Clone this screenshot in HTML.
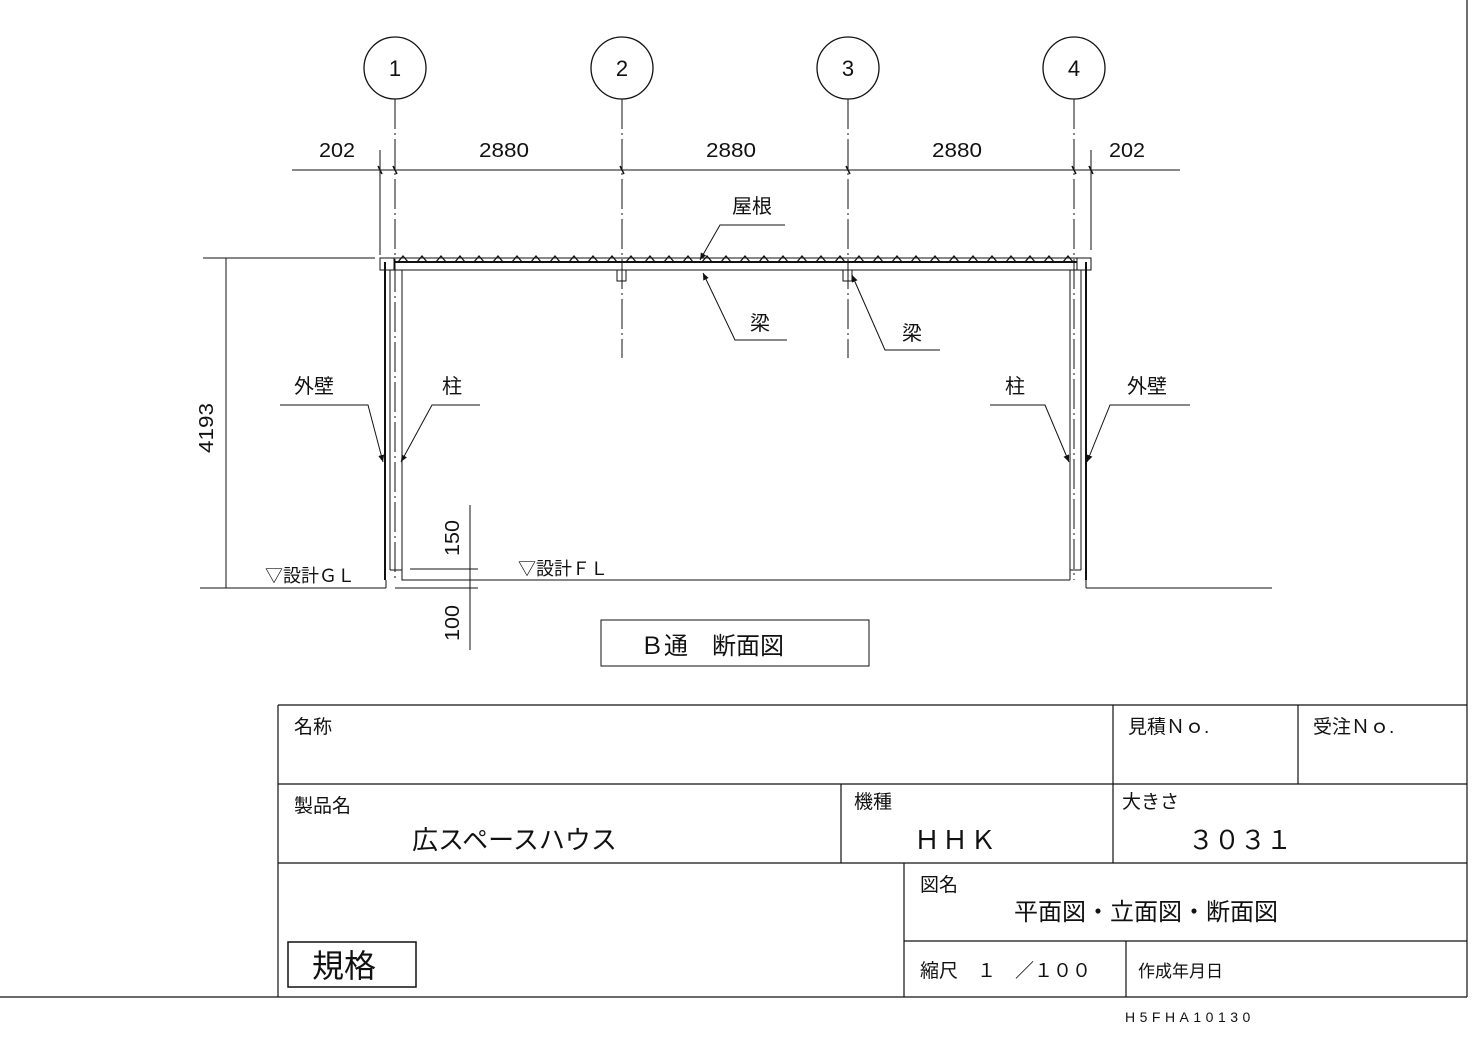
<!DOCTYPE html>
<html><head><meta charset="utf-8"><style>
body{margin:0;background:#fff;width:1472px;height:1038px;overflow:hidden}
svg{display:block}
text{font-family:"Liberation Sans","Noto Sans CJK JP",sans-serif;fill:#111}
</style></head><body>
<svg width="1472" height="1038" viewBox="0 0 1472 1038" stroke="#111" fill="none" stroke-width="1">
<defs><marker id="a" markerWidth="8" markerHeight="8" refX="7" refY="3" orient="auto" markerUnits="userSpaceOnUse"><path d="M0 0 L7 3 L0 6 Z" fill="#111" stroke="none"/></marker></defs>
<g stroke-width="1.3">
<circle cx="395" cy="68" r="31"/><circle cx="622" cy="68" r="31"/><circle cx="848" cy="68" r="31"/><circle cx="1074" cy="68" r="31"/>
</g>
<g stroke="none" font-size="22" text-anchor="middle">
<text x="395" y="76">1</text><text x="622" y="76">2</text><text x="848" y="76">3</text><text x="1074" y="76">4</text>
</g>
<g stroke-dasharray="30,4,2,4">
<line x1="395" y1="99" x2="395" y2="262"/>
<line x1="622" y1="99" x2="622" y2="358"/>
<line x1="848" y1="99" x2="848" y2="358"/>
<line x1="1074" y1="99" x2="1074" y2="580"/>
<line x1="395" y1="262" x2="395" y2="580"/>
</g>
<line x1="380" y1="150" x2="380" y2="255"/>
<line x1="1091" y1="150" x2="1091" y2="250"/>
<line x1="292" y1="170" x2="1180" y2="170"/>
<g stroke-width="1.5">
<line x1="378" y1="166" x2="382" y2="174"/><line x1="393" y1="166" x2="397" y2="174"/>
<line x1="620" y1="166" x2="624" y2="174"/><line x1="846" y1="166" x2="850" y2="174"/>
<line x1="1072" y1="166" x2="1076" y2="174"/><line x1="1089" y1="166" x2="1093" y2="174"/>
</g>
<g stroke="none" font-size="20" text-anchor="middle" font-family="Liberation Sans">
<text x="337" y="157" textLength="36" lengthAdjust="spacingAndGlyphs">202</text>
<text x="504" y="157" textLength="50" lengthAdjust="spacingAndGlyphs">2880</text>
<text x="731" y="157" textLength="50" lengthAdjust="spacingAndGlyphs">2880</text>
<text x="957" y="157" textLength="50" lengthAdjust="spacingAndGlyphs">2880</text>
<text x="1127" y="157" textLength="36" lengthAdjust="spacingAndGlyphs">202</text>
</g>
<path d="M380 258 H1091 V270 H380 Z"/>
<line x1="395" y1="262" x2="1077" y2="262" stroke-width="2"/>
<path stroke-width="1.3" d="M398 262 l5 -6 l5 6 m9 0 l5 -6 l5 6 m9 0 l5 -6 l5 6 m9 0 l5 -6 l5 6 m9 0 l5 -6 l5 6 m9 0 l5 -6 l5 6 m9 0 l5 -6 l5 6 m9 0 l5 -6 l5 6 m9 0 l5 -6 l5 6 m9 0 l5 -6 l5 6 m9 0 l5 -6 l5 6 m9 0 l5 -6 l5 6 m9 0 l5 -6 l5 6 m9 0 l5 -6 l5 6 m9 0 l5 -6 l5 6 m9 0 l5 -6 l5 6 m9 0 l5 -6 l5 6 m9 0 l5 -6 l5 6 m9 0 l5 -6 l5 6 m9 0 l5 -6 l5 6 m9 0 l5 -6 l5 6 m9 0 l5 -6 l5 6 m9 0 l5 -6 l5 6 m9 0 l5 -6 l5 6 m9 0 l5 -6 l5 6 m9 0 l5 -6 l5 6 m9 0 l5 -6 l5 6 m9 0 l5 -6 l5 6 m9 0 l5 -6 l5 6 m9 0 l5 -6 l5 6 m9 0 l5 -6 l5 6 m9 0 l5 -6 l5 6 m9 0 l5 -6 l5 6 m9 0 l5 -6 l5 6 m9 0 l5 -6 l5 6 m9 0 l5 -6 l5 6"/>
<rect x="617" y="270" width="9" height="11"/><rect x="843" y="270" width="9" height="11"/>
<rect x="380" y="258" width="14" height="12"/><rect x="1077" y="258" width="14" height="12"/>
<line x1="385" y1="262" x2="385" y2="580" stroke-width="2"/>
<line x1="390" y1="270" x2="390" y2="570"/>
<line x1="402" y1="270" x2="402" y2="570"/>
<line x1="1070" y1="270" x2="1070" y2="570"/>
<line x1="1081" y1="270" x2="1081" y2="570"/>
<line x1="1086" y1="262" x2="1086" y2="580" stroke-width="2"/>
<path d="M390 570 H402 V580 H410"/>
<path d="M1081 570 H1070 V580"/>
<line x1="200" y1="588" x2="386" y2="588"/>
<line x1="1086" y1="588" x2="1272" y2="588"/>
<line x1="386" y1="580" x2="386" y2="588"/><line x1="1086" y1="580" x2="1086" y2="588"/>
<line x1="402" y1="580" x2="1070" y2="580"/>
<line x1="410" y1="569" x2="478" y2="569"/><line x1="410" y1="580" x2="478" y2="580"/><line x1="395" y1="588" x2="478" y2="588"/>
<line x1="470" y1="505" x2="470" y2="650"/>
<line x1="226" y1="258" x2="226" y2="588"/>
<line x1="203" y1="258" x2="375" y2="258"/>
<g stroke="none" font-size="20" font-family="Liberation Sans">
<text transform="translate(213,428) rotate(-90)" text-anchor="middle" textLength="50" lengthAdjust="spacingAndGlyphs">4193</text>
<text transform="translate(459,538) rotate(-90)" text-anchor="middle" textLength="36" lengthAdjust="spacingAndGlyphs">150</text>
<text transform="translate(459,623) rotate(-90)" text-anchor="middle" textLength="36" lengthAdjust="spacingAndGlyphs">100</text>
</g>
<g stroke="none" font-size="18">
<text x="265" y="582">▽設計ＧＬ</text>
<text x="518" y="575">▽設計ＦＬ</text>
</g>
<g marker-end="url(#a)">
<path d="M280 405 H368 L383 462"/><path d="M480 405 H432 L401 462"/>
<path d="M990 405 H1045 L1069 462"/><path d="M1190 405 H1110 L1087 462"/>
<path d="M785 225 H720 L700 260"/>
<path d="M787 340 H735 L703 273"/>
<path d="M940 350 H885 L852 275"/>
</g>
<g stroke="none" font-size="20">
<text x="294" y="393">外壁</text><text x="442" y="393">柱</text>
<text x="1005" y="393">柱</text><text x="1127" y="393">外壁</text>
<text x="732" y="213">屋根</text><text x="750" y="330">梁</text><text x="902" y="340">梁</text>
</g>
<rect x="601" y="620" width="268" height="46"/>
<text x="640" y="654" stroke="none" font-size="24">Ｂ通　断面図</text>
<g stroke-width="1.2">
<line x1="278" y1="705" x2="1467" y2="705"/>
<line x1="278" y1="705" x2="278" y2="997"/>
<line x1="0" y1="997" x2="1467" y2="997"/>
<line x1="1467" y1="0" x2="1467" y2="997"/>
<line x1="278" y1="784" x2="1467" y2="784"/>
<line x1="278" y1="863" x2="1467" y2="863"/>
<line x1="904" y1="941" x2="1467" y2="941"/>
<line x1="1113" y1="705" x2="1113" y2="863"/>
<line x1="1298" y1="705" x2="1298" y2="784"/>
<line x1="841" y1="784" x2="841" y2="863"/>
<line x1="904" y1="863" x2="904" y2="997"/>
<line x1="1126" y1="941" x2="1126" y2="997"/>
</g>
<rect x="288" y="942" width="128" height="45" stroke-width="1.5"/>
<g stroke="none" font-size="19">
<text x="294" y="733">名称</text>
<text x="1128" y="733">見積Ｎｏ.</text>
<text x="1313" y="733">受注Ｎｏ.</text>
<text x="294" y="812">製品名</text>
<text x="854" y="808">機種</text>
<text x="1122" y="808">大きさ</text>
<text x="920" y="891">図名</text>
<text x="920" y="977">縮尺　１　／１００</text>
<text x="1138" y="977" font-size="17">作成年月日</text>
</g>
<g stroke="none" font-size="26">
<text x="412" y="849">広スペースハウス</text>
<text x="914" y="849" letter-spacing="2">ＨＨＫ</text>
<text x="1188" y="849" letter-spacing="0">３０３１</text>
<text x="1014" y="920" font-size="24">平面図・立面図・断面図</text>
<text x="312" y="977" font-size="32">規格</text>
</g>
<text x="1125" y="1022" stroke="none" font-size="14" letter-spacing="4.5" font-family="Liberation Sans">H5FHA10130</text>
</svg>
</body></html>
